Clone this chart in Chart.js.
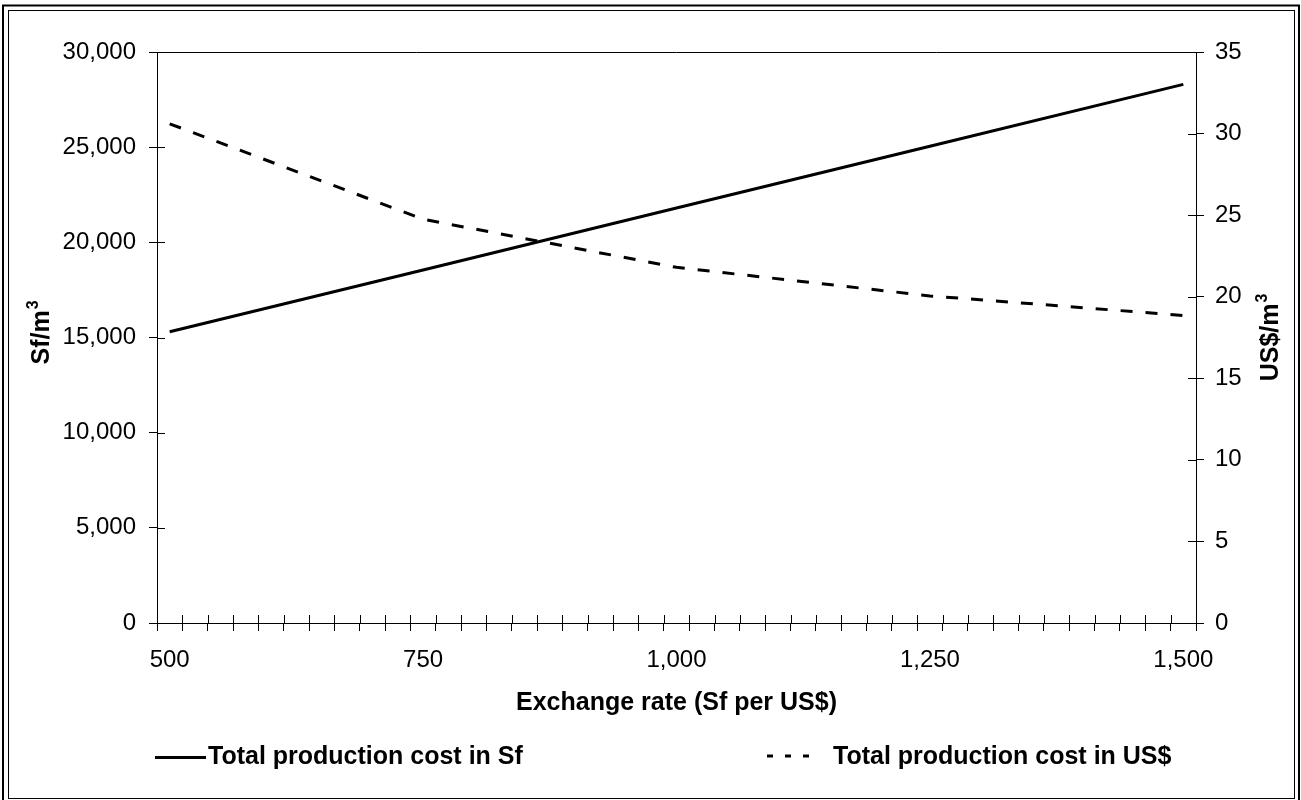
<!DOCTYPE html>
<html>
<head>
<meta charset="utf-8">
<script src="https://cdn.jsdelivr.net/npm/chart.js@4.4.1/dist/chart.umd.min.js"></script>
<style>
  html, body { margin: 0; padding: 0; background: #fff; }
  #wrap { position: relative; width: 1301px; height: 800px; }
</style>
</head>
<body>
<div id="wrap"><canvas id="c" width="1301" height="800"></canvas></div>
<script>
// Exchange-rate categories (Sf per US$), one every 25
const rateCategories = [500, 525, 550, 575, 600, 625, 650, 675, 700, 725,
                        750, 775, 800, 825, 850, 875, 900, 925, 950, 975,
                        1000, 1025, 1050, 1075, 1100, 1125, 1150, 1175, 1200, 1225,
                        1250, 1275, 1300, 1325, 1350, 1375, 1400, 1425, 1450, 1475, 1500];
// Rates at which the costs are evaluated
const sampleRates = [500, 750, 1000, 1250, 1500];
// Total production cost in Sf per m3
const costSf = [15300, 18550, 21800, 25050, 28300];
// Total production cost in US$ per m3
const costUsd = [30.6, 24.75, 21.8, 20.05, 18.85];
// Axis ticks
const sfTicks = [0, 5000, 10000, 15000, 20000, 25000, 30000];
const usdTicks = [0, 5, 10, 15, 20, 25, 30, 35];
const labelEvery = 250;

const seriesNames = ['Total production cost in Sf', 'Total production cost in US$'];
const xTitle = 'Exchange rate (Sf per US$)';
// unit titles: base text plus a superscript exponent
const ySfTitle = ['Sf/m', '3'];
const yUsdTitle = ['US$/m', '3'];

const FONT = "'Liberation Sans', Arial, Helvetica, sans-serif";
const BOLD = 'bold 25px ' + FONT;
const SUP = 'bold 16px ' + FONT;
const fmt = v => Number(v).toLocaleString('en-US');

// draws "base" + raised exponent, centred on (0,0) along the current x direction
function drawUnit(ctx, parts) {
  ctx.font = BOLD;
  const w1 = ctx.measureText(parts[0]).width;
  ctx.font = SUP;
  const w2 = ctx.measureText(parts[1]).width;
  const x0 = -(w1 + w2 + 1) / 2;
  ctx.textAlign = 'left';
  ctx.textBaseline = 'alphabetic';
  ctx.font = BOLD;
  ctx.fillText(parts[0], x0, 9);
  ctx.font = SUP;
  ctx.fillText(parts[1], x0 + w1 + 1, -2);
}

// Page frame, plot box, inward halves of the cross tick marks, titles and legend
const decorations = {
  id: 'decorations',
  beforeDraw(chart) {
    const ctx = chart.ctx;
    ctx.save();
    ctx.fillStyle = '#fff';
    ctx.fillRect(0, 0, chart.width, chart.height);
    ctx.strokeStyle = '#000';
    ctx.lineWidth = 2;
    ctx.strokeRect(3, 5.5, 1296, 800);
    ctx.lineWidth = 1;
    ctx.strokeRect(8.5, 10.5, 1286, 788);
    ctx.restore();
  },
  beforeDatasetsDraw(chart) {
    const ctx = chart.ctx;
    const a = chart.chartArea;
    const xs = chart.scales.x, yl = chart.scales.y, yr = chart.scales.y1;
    const len = 8;
    ctx.save();
    ctx.strokeStyle = '#000';
    ctx.lineWidth = 1;
    ctx.beginPath();
    // top edge of the plot box
    ctx.moveTo(Math.round(a.left), Math.round(a.top) + 0.5);
    ctx.lineTo(Math.round(a.right), Math.round(a.top) + 0.5);
    // x ticks sit on category boundaries
    const n = xs.ticks.length;
    for (let i = 0; i <= n; i++) {
      let px;
      if (i === 0) px = xs.left;
      else if (i === n) px = xs.right;
      else px = (xs.getPixelForTick(i - 1) + xs.getPixelForTick(i)) / 2;
      px = Math.round(px) + 0.5;
      ctx.moveTo(px, a.bottom);
      ctx.lineTo(px, a.bottom - len);
    }
    yl.ticks.forEach((t, i) => {
      const py = Math.round(yl.getPixelForTick(i)) + 0.5;
      ctx.moveTo(a.left, py);
      ctx.lineTo(a.left + len, py);
    });
    yr.ticks.forEach((t, i) => {
      const py = Math.round(yr.getPixelForTick(i)) + 0.5;
      ctx.moveTo(a.right, py);
      ctx.lineTo(a.right - len, py);
    });
    ctx.stroke();
    ctx.restore();
  },
  afterDraw(chart) {
    const ctx = chart.ctx;
    const a = chart.chartArea;
    const midY = (a.top + a.bottom) / 2;
    const midX = (a.left + a.right) / 2;
    ctx.save();
    ctx.fillStyle = '#000';
    ctx.font = BOLD;
    ctx.textAlign = 'center';
    ctx.textBaseline = 'middle';
    // axis titles
    ctx.fillText(xTitle, midX, 703);
    ctx.save();
    ctx.translate(40, midY - 5);
    ctx.rotate(-Math.PI / 2);
    drawUnit(ctx, ySfTitle);
    ctx.restore();
    ctx.save();
    ctx.translate(1269, midY);
    ctx.rotate(-Math.PI / 2);
    drawUnit(ctx, yUsdTitle);
    ctx.restore();

    // legend
    const ly = 757;
    const ds = chart.data.datasets;
    ctx.font = BOLD;
    ctx.textAlign = 'left';
    ctx.textBaseline = 'middle';
    ctx.strokeStyle = '#000';
    ctx.lineWidth = 3;
    ctx.beginPath();
    ctx.setLineDash([]);
    ctx.moveTo(155, ly + 0.5);
    ctx.lineTo(206, ly + 0.5);
    ctx.stroke();
    ctx.fillText(ds[0].label, 208, ly);

    ctx.beginPath();
    ctx.setLineDash([6, 12]);
    ctx.moveTo(767, ly - 1);
    ctx.lineTo(809, ly - 1);
    ctx.stroke();
    ctx.setLineDash([]);
    ctx.fillText(ds[1].label, 833, ly);
    ctx.restore();
  }
};

new Chart(document.getElementById('c'), {
  type: 'line',
  data: {
    labels: rateCategories.map(String),
    datasets: [
      {
        label: seriesNames[0],
        data: sampleRates.map((r, i) => ({ x: String(r), y: costSf[i] })),
        yAxisID: 'y',
        borderColor: '#000',
        borderWidth: 3,
        pointRadius: 0,
        tension: 0,
        fill: false
      },
      {
        label: seriesNames[1],
        data: sampleRates.map((r, i) => ({ x: String(r), y: costUsd[i] })),
        yAxisID: 'y1',
        borderColor: '#000',
        borderWidth: 3,
        borderDash: [12, 13],
        borderCapStyle: 'butt',
        pointRadius: 0,
        tension: 0,
        fill: false
      }
    ]
  },
  options: {
    responsive: false,
    animation: false,
    devicePixelRatio: 1,
    layout: { padding: { top: 52, left: 0, right: 0, bottom: 0 } },
    plugins: { legend: { display: false }, tooltip: { enabled: false } },
    scales: {
      x: {
        type: 'category',
        offset: true,
        grid: { offset: true, drawOnChartArea: false, drawTicks: true, tickLength: 8, color: '#000', lineWidth: 1 },
        border: { display: true, color: '#000', width: 1 },
        ticks: {
          autoSkip: false, maxRotation: 0, minRotation: 0, color: '#000', padding: 15,
          font: { family: FONT, size: 24 },
          callback: (v, i) => (rateCategories[i] % labelEvery === 0 ? fmt(rateCategories[i]) : '')
        },
        afterFit: s => { s.height = 177; }
      },
      y: {
        type: 'linear', position: 'left',
        min: sfTicks[0], max: sfTicks[sfTicks.length - 1],
        grid: { drawOnChartArea: false, tickLength: 8, color: '#000', lineWidth: 1 },
        border: { display: true, color: '#000', width: 1 },
        ticks: {
          stepSize: sfTicks[1] - sfTicks[0], color: '#000', padding: 13,
          font: { family: FONT, size: 24 }, callback: v => fmt(v)
        },
        afterFit: s => { s.width = 157; }
      },
      y1: {
        type: 'linear', position: 'right',
        min: usdTicks[0], max: usdTicks[usdTicks.length - 1],
        grid: { drawOnChartArea: false, tickLength: 8, color: '#000', lineWidth: 1 },
        border: { display: true, color: '#000', width: 1 },
        ticks: {
          stepSize: usdTicks[1] - usdTicks[0], color: '#000', padding: 11,
          font: { family: FONT, size: 24 }, callback: v => fmt(v)
        },
        afterFit: s => { s.width = 105; }
      }
    }
  },
  plugins: [decorations]
});
</script>
</body>
</html>
